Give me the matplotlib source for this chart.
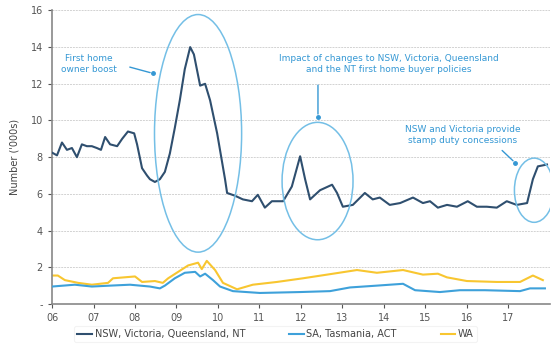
import matplotlib
matplotlib.use("Agg")
import matplotlib.pyplot as plt
from matplotlib.patches import Ellipse

# First home buyer numbers by state group ('000s), decimal years
nsw_years = [2006.00, 2006.12, 2006.24, 2006.36, 2006.48, 2006.60, 2006.72, 2006.84, 2006.96,
             2007.08, 2007.18, 2007.28, 2007.40, 2007.57, 2007.69, 2007.83, 2007.98,
             2008.05, 2008.17, 2008.29, 2008.36, 2008.48, 2008.60, 2008.72, 2008.84, 2008.96,
             2009.08, 2009.20, 2009.33, 2009.42, 2009.57, 2009.69, 2009.81, 2009.98,
             2010.17, 2010.22, 2010.41, 2010.60, 2010.82, 2010.96,
             2011.13, 2011.30, 2011.57, 2011.78, 2011.98,
             2012.10, 2012.22, 2012.46, 2012.75, 2012.87,
             2013.01, 2013.25, 2013.54, 2013.73, 2013.90,
             2014.14, 2014.39, 2014.70, 2014.94,
             2015.11, 2015.30, 2015.52, 2015.76,
             2016.02, 2016.24, 2016.48, 2016.72, 2016.96,
             2017.20, 2017.45, 2017.59, 2017.71, 2017.93]
nsw_vic_qld_nt = [8.25, 8.1, 8.8, 8.4, 8.5, 8.0, 8.7, 8.6, 8.6,
                  8.5, 8.4, 9.1, 8.7, 8.6, 9.0, 9.4, 9.3,
                  8.7, 7.4, 7.0, 6.8, 6.65, 6.8, 7.2, 8.2, 9.6,
                  11.1, 12.8, 14.0, 13.6, 11.9, 12.0, 11.1, 9.3,
                  6.8, 6.05, 5.9, 5.7, 5.6, 5.95,
                  5.25, 5.6, 5.6, 6.4, 8.05,
                  6.8, 5.7, 6.2, 6.5, 6.05,
                  5.3, 5.4, 6.05, 5.7, 5.8,
                  5.4, 5.5, 5.8, 5.5,
                  5.6, 5.25, 5.4, 5.3,
                  5.6, 5.3, 5.3, 5.25, 5.6,
                  5.4, 5.5, 6.8, 7.5, 7.6]

sa_years = [2006.00, 2006.55, 2006.96, 2007.40, 2007.88, 2008.36, 2008.60, 2008.72, 2008.96,
            2009.20, 2009.45, 2009.57, 2009.69, 2009.88, 2010.05, 2010.36, 2011.01,
            2011.98, 2012.70, 2013.18, 2013.83, 2014.46, 2014.75, 2015.35, 2015.83,
            2016.43, 2017.28, 2017.52, 2017.88]
sa_tas_act = [0.95, 1.05, 0.95, 1.0, 1.05, 0.95, 0.85, 1.0, 1.4,
              1.7, 1.75, 1.5, 1.65, 1.3, 0.95, 0.7, 0.6,
              0.65, 0.7, 0.9, 1.0, 1.1, 0.75, 0.65, 0.75,
              0.75, 0.7, 0.85, 0.85]

wa_years = [2006.00, 2006.14, 2006.31, 2006.63, 2006.96, 2007.35, 2007.47, 2008.00, 2008.17,
            2008.48, 2008.67, 2008.80, 2009.04, 2009.28, 2009.52, 2009.61, 2009.73, 2009.93,
            2010.12, 2010.46, 2010.84, 2011.42, 2012.05, 2012.63, 2013.35, 2013.83,
            2014.46, 2014.94, 2015.30, 2015.52, 2016.00, 2016.72, 2017.28, 2017.59, 2017.83]
wa = [1.55, 1.55, 1.3, 1.15, 1.05, 1.15, 1.4, 1.5, 1.2,
      1.25, 1.15, 1.4, 1.75, 2.1, 2.25, 1.9, 2.35, 1.85,
      1.15, 0.8, 1.05, 1.2, 1.4, 1.6, 1.85, 1.7,
      1.85, 1.6, 1.65, 1.45, 1.25, 1.2, 1.2, 1.55, 1.3]

tick_years = list(range(2006, 2018))
tick_labels = ["%02d" % (y % 100) for y in tick_years]
y_ticks = list(range(0, 17, 2))
y_labels = ["-"] + [str(v) for v in y_ticks[1:]]

dark = "#2f4f6f"
light = "#3ea1da"
yellow = "#f8c630"
note = "#3598d4"
ring = "#74bfe6"

fig = plt.figure(figsize=(5.51, 3.47), dpi=100)
ax = fig.add_axes([0.0944, 0.124, 0.9036, 0.846])

ax.plot(nsw_years, nsw_vic_qld_nt, color=dark, lw=1.5, label="NSW, Victoria, Queensland, NT", zorder=3)
ax.plot(sa_years, sa_tas_act, color=light, lw=1.5, label="SA, Tasmania, ACT", zorder=3)
ax.plot(wa_years, wa, color=yellow, lw=1.5, label="WA", zorder=2)

ax.set_xlim(2006, 2018)
ax.set_ylim(0, 16)
ax.set_xticks(tick_years)
ax.set_xticklabels(tick_labels)
ax.set_yticks(y_ticks)
ax.set_yticklabels(y_labels)
ax.tick_params(labelsize=7, colors="#555555", length=3)
ax.yaxis.grid(True, color="#d2d2d2", ls=(0, (2, 1)), lw=0.7)
ax.set_axisbelow(True)
for s in ["top", "right"]:
    ax.spines[s].set_visible(False)
for s in ["left", "bottom"]:
    ax.spines[s].set_color("#888888")
    ax.spines[s].set_linewidth(1.2)
ax.set_ylabel("Number ('000s)", fontsize=7, color="#444444", labelpad=8)

# circled episodes
ax.add_patch(Ellipse((2009.52, 9.3), 2.1, 12.95, fill=False, ec=ring, lw=1.1, zorder=4))
ax.add_patch(Ellipse((2012.40, 6.7), 1.71, 6.4, fill=False, ec=ring, lw=1.1, zorder=4))
ax.add_patch(Ellipse((2017.62, 6.2), 0.95, 3.5, fill=False, ec=ring, lw=1.1, zorder=4))

notes = [
    ("First home\nowner boost", (2006.89, 13.1), (2007.81, 12.95), (2008.43, 12.57)),
    ("Impact of changes to NSW, Victoria, Queensland\nand the NT first home buyer policies",
     (2014.12, 13.06), (2012.41, 12.08), (2012.41, 10.2)),
    ("NSW and Victoria provide\nstamp duty concessions", (2015.90, 9.23), (2016.80, 8.47), (2017.16, 7.7)),
]
for text, pos, start, end in notes:
    ax.text(pos[0], pos[1], text, color=note, fontsize=6.5, ha="center", va="center", linespacing=1.3)
    ax.annotate("", xy=end, xytext=start,
                arrowprops=dict(arrowstyle="-", color=note, lw=1.0))
    ax.plot([end[0]], [end[1]], "o", color=note, ms=2.5, zorder=5)

leg = fig.legend(loc="lower center", bbox_to_anchor=(0.5, 0.0), ncol=3, fontsize=7,
                 frameon=True, handlelength=1.5, handletextpad=0.3, columnspacing=4.5,
                 borderpad=0.3)
leg.get_frame().set_edgecolor("#f0f0f0")
leg.get_frame().set_linewidth(0.8)
for t in leg.get_texts():
    t.set_color("#444444")

fig.savefig("out.png", dpi=100)
